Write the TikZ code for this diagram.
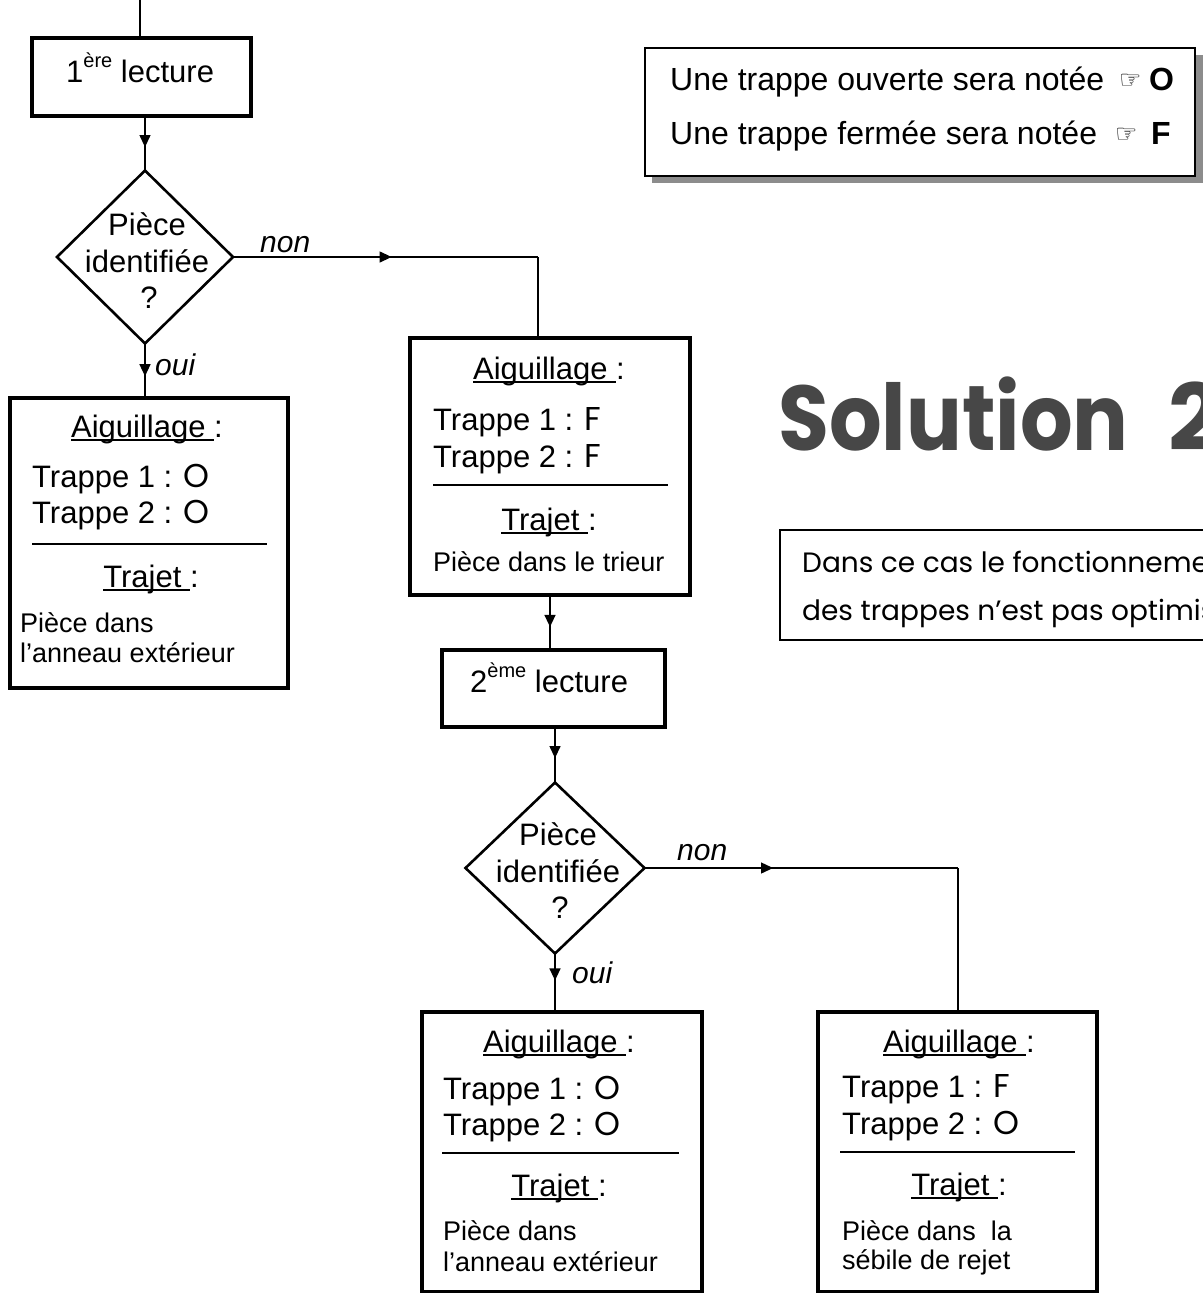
\documentclass[tikz,border=0pt]{standalone}
\usepackage{fontspec}
\setmainfont{Liberation Sans}
\newfontfamily\symfont{DejaVu Sans}
\newfontfamily\comicfont{Poppins}
\usetikzlibrary{shapes.geometric,arrows.meta,decorations.markings}
\newcommand\fs[2]{\fontsize{#1}{#2}\selectfont}
\newsavebox\ulbox
\newcommand\myul[1]{\sbox\ulbox{#1}\rlap{\rule[-4pt]{\wd\ulbox}{1.6pt}}\usebox\ulbox}
\newcommand\lt[1]{{\comicfont\fs{33}{36}#1}}
\tikzset{
  box/.style={draw, line width=3.2pt, inner sep=0pt, outer sep=0pt},
  dia/.style={draw, diamond, line width=2.6pt, inner sep=0pt, outer sep=0pt},
  conn/.style={line width=1.3pt},
  midarrow/.style={postaction={decorate}, decoration={markings, mark=at position #1 with {\arrow{Triangle[length=12pt,width=11pt]}}}},
  big/.style={font=\fs{31}{37}, inner sep=0pt},
  small/.style={font=\fs{27}{30}, inner sep=0pt},
  lbl/.style={font=\fs{30}{36}\itshape, inner sep=0pt},
  sepline/.style={line width=2.8pt},
  legtext/.style={font=\fs{32}{38}, inner sep=0pt},
  comic/.style={font=\comicfont\fs{28}{32}, inner sep=0pt},
}
\begin{document}
\begin{tikzpicture}[x=1pt,y=-1pt]
\useasboundingbox (0,0) rectangle (1202,1293);

% ---------- first reading ----------
\coordinate (top) at (140,0);
\node[box, minimum width=219pt, minimum height=78pt] (b1) at (141.5,77) {};
\node[big, anchor=base west] (b1t) at (66,82) {1\raisebox{15pt}{\fs{20}{20}ère} lecture};

\node[dia, minimum width=176pt, minimum height=173pt] (d1) at (145,257) {};
\node[big, anchor=base] (d1a) at (147,235) {Pièce};
\node[big, anchor=base] (d1b) at (147,272) {identifiée};
\node[big, anchor=base] (d1c) at (149,308) {?};
\node[lbl, anchor=base west] (non1) at (260,252) {non};
\node[lbl, anchor=base west] (oui1) at (155,375) {oui};
\coordinate (c1) at (538,257);

% ---------- left result box ----------
\node[box, minimum width=278pt, minimum height=290pt] (b2) at (149,543) {};
\node[big, anchor=base] (b2a) at (147,437) {\myul{Aiguillage\ }:};
\node[big, anchor=base west] (b2t1) at (32,487) {Trappe 1 : \lt{O}};
\node[big, anchor=base west] (b2t2) at (32,523) {Trappe 2 : \lt{O}};
\draw[sepline] (32,544) -- (267,544);
\node[big, anchor=base] (b2j) at (151,587) {\myul{Trajet\ }:};
\node[small, anchor=base west] (b2p1) at (20,632) {Pièce dans};
\node[small, anchor=base west] (b2p2) at (20,662) {l’anneau extérieur};

% ---------- sorter box ----------
\node[box, minimum width=280pt, minimum height=257pt] (b3) at (550,466.5) {};
\node[big, anchor=base] (b3a) at (549,379) {\myul{Aiguillage\ }:};
\node[big, anchor=base west] (b3t1) at (433,430) {Trappe 1 : \lt{F}};
\node[big, anchor=base west] (b3t2) at (433,467) {Trappe 2 : \lt{F}};
\draw[sepline] (433,485) -- (668,485);
\node[big, anchor=base] (b3j) at (549,530) {\myul{Trajet\ }:};
\node[small, anchor=base west] (b3p) at (433,571) {Pièce dans le trieur};

% ---------- second reading ----------
\node[box, minimum width=223pt, minimum height=77pt] (b4) at (553.5,688.5) {};
\node[big, anchor=base west] (b4t) at (470,692) {2\raisebox{15pt}{\fs{20}{20}ème} lecture};

\node[dia, minimum width=179pt, minimum height=171pt] (d2) at (555,868) {};
\node[big, anchor=base] (d2a) at (558,845) {Pièce};
\node[big, anchor=base] (d2b) at (558,882) {identifiée};
\node[big, anchor=base] (d2c) at (560,918) {?};
\node[lbl, anchor=base west] (non2) at (677,860) {non};
\node[lbl, anchor=base west] (oui2) at (572,983) {oui};
\coordinate (c2) at (958,868);

% ---------- bottom boxes ----------
\node[box, minimum width=280pt, minimum height=280pt] (b5) at (562,1152) {};
\node[big, anchor=base] (b5a) at (559,1052) {\myul{Aiguillage\ }:};
\node[big, anchor=base west] (b5t1) at (443,1099) {Trappe 1 : \lt{O}};
\node[big, anchor=base west] (b5t2) at (443,1135) {Trappe 2 : \lt{O}};
\draw[sepline] (442,1153) -- (679,1153);
\node[big, anchor=base] (b5j) at (559,1196) {\myul{Trajet\ }:};
\node[small, anchor=base west] (b5p1) at (443,1240) {Pièce dans};
\node[small, anchor=base west] (b5p2) at (443,1271) {l’anneau extérieur};

\node[box, minimum width=279pt, minimum height=280pt] (b6) at (957.5,1152) {};
\node[big, anchor=base] (b6a) at (959,1052) {\myul{Aiguillage\ }:};
\node[big, anchor=base west] (b6t1) at (842,1097) {Trappe 1 : \lt{F}};
\node[big, anchor=base west] (b6t2) at (842,1134) {Trappe 2 : \lt{O}};
\draw[sepline] (840,1152) -- (1075,1152);
\node[big, anchor=base] (b6j) at (959,1195) {\myul{Trajet\ }:};
\node[small, anchor=base west] (b6p1) at (842,1240) {Pièce dans\ \ la};
\node[small, anchor=base west] (b6p2) at (842,1269) {sébile de rejet};

% ---------- connectors ----------
\draw[conn] (top) -- (top |- b1.north);
\draw[conn, midarrow=0.57] (d1.north |- b1.south) -- (d1.north);
\draw[conn, midarrow=0.52] (d1.east) -- (c1);
\draw[conn] (c1) -- (c1 |- b3.north);
\draw[conn, midarrow=0.6] (d1.south) -- (d1.south |- b2.north);
\draw[conn, midarrow=0.58] (b3.south) -- (b3.south |- b4.north);
\draw[conn, midarrow=0.56] (d2.north |- b4.south) -- (d2.north);
\draw[conn, midarrow=0.41] (d2.east) -- (c2);
\draw[conn] (c2) -- (c2 |- b6.north);
\draw[conn, midarrow=0.46] (d2.south) -- (d2.south |- b5.north);

% ---------- legend ----------
\fill[black!45] (652,55) rectangle (1203,183);
\node[draw, fill=white, line width=1.4pt, inner sep=0pt, outer sep=0pt, minimum width=550pt, minimum height=128pt] (leg) at (920,112) {};
\node[legtext, anchor=base west] (l1) at (670,90) {Une trappe ouverte sera notée};
\node[anchor=base west, inner sep=0pt, font=\symfont\fs{25}{25}] (l1s) at (1119,88) {☞};
\node[legtext, anchor=base west, font=\fs{32}{38}\bfseries] (l1o) at (1149,90) {O};
\node[legtext, anchor=base west] (l2) at (670,144) {Une trappe fermée sera notée};
\node[anchor=base west, inner sep=0pt, font=\symfont\fs{25}{25}] (l2s) at (1115,142) {☞};
\node[legtext, anchor=base west, font=\fs{32}{38}\bfseries] (l2f) at (1151,144) {F};

% ---------- title and comment ----------
\node[anchor=base west, inner sep=0pt, text=black!72, font=\comicfont\bfseries\fs{92}{100}] (sol) at (778,450) {\scalebox{0.9}[1]{Solution}\hspace{40pt}2};
\node[draw, line width=1.2pt, inner sep=0pt, outer sep=0pt, minimum width=450pt, minimum height=110pt] (cbox) at (1005,585) {};
\node[comic, anchor=base west] (cm1) at (802,572) {Dans ce cas le fonctionnement};
\node[comic, anchor=base west] (cm2) at (802,620) {des trappes n’est pas optimisé};
\end{tikzpicture}
\end{document}
